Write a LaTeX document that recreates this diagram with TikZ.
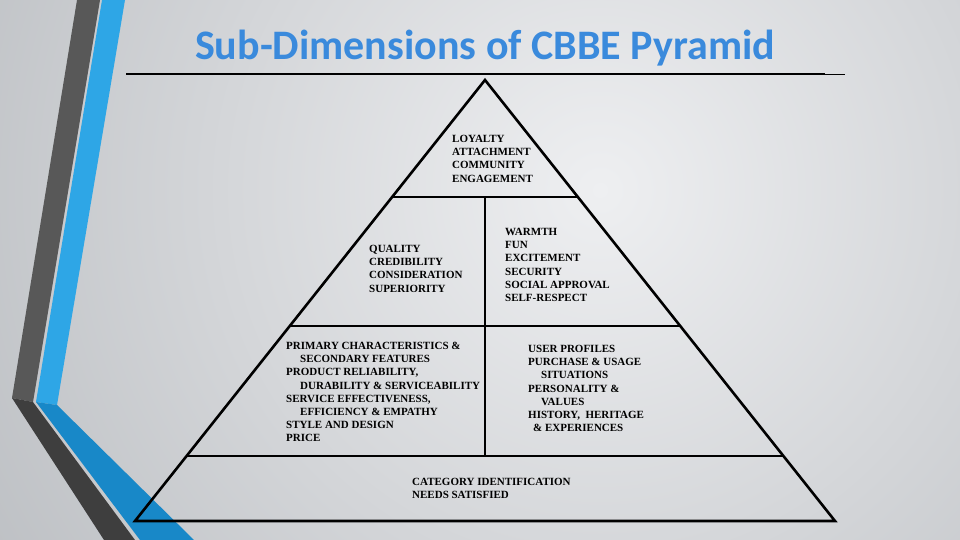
\documentclass[tikz,border=0pt]{standalone}
\usepackage{fontspec}
\setmainfont{Liberation Serif}
\newfontfamily\titlefont{Carlito}
\usepackage{tikz}
\usetikzlibrary{positioning, calc}

\definecolor{bandgray}{RGB}{88,88,88}
\definecolor{banddark}{RGB}{62,62,62}
\definecolor{bandblue}{RGB}{46,166,230}
\definecolor{banddeep}{RGB}{24,136,200}
\definecolor{titleblue}{RGB}{58,138,220}
\definecolor{bgcenter}{RGB}{238,239,241}
\definecolor{bgouter}{RGB}{186,189,193}

\begin{document}
\begin{tikzpicture}[x=1pt, y=-1pt,
  tiertext/.style={anchor=north west, inner sep=0pt, align=left,
    font=\fontsize{11}{13.2}\selectfont\bfseries},
  pyr/.style={line width=2.6pt}]
\useasboundingbox (0,0) rectangle (960,540);

% Background
\begin{scope}
\clip (0,0) rectangle (960,540);
\shade[inner color=bgcenter, outer color=bgouter] (600,190) circle (760);
\end{scope}

% Side bands
\fill[bandgray] (77,0) -- (100,0) -- (33,402) -- (12,398) -- cycle;
\fill[banddark] (12,398) -- (33,402) -- (135,540) -- (104,540) -- cycle;
\fill[bandblue] (102,0) -- (125,0) -- (57,405) -- (36,402) -- cycle;
\fill[banddeep] (36,402) -- (57,405) -- (194,540) -- (140,540) -- cycle;

% Title
\node[font=\titlefont\bfseries\fontsize{42}{48}\selectfont, text=titleblue] (title) at (485,48) {Sub-Dimensions of CBBE Pyramid};
\coordinate (ruleL) at (126,74);
\coordinate (ruleR) at (825,74);
\coordinate (ruleE) at (845,75);
\draw[line width=2.4pt] (ruleL) -- (ruleR);
\draw[line width=1pt] (ruleR |- ruleE) -- (ruleE);

% Pyramid corners
\coordinate (apex) at (485,80);
\coordinate (baseL) at (135,521);
\coordinate (baseR) at (835,521);
\coordinate (t1L) at (392,197);
\coordinate (t1R) at (578,197);
\coordinate (t2L) at (289,326);
\coordinate (t2R) at (681,326);
\coordinate (t3L) at (186,456);
\coordinate (t3R) at (784,456);
\coordinate (mid1) at (485,197);
\coordinate (mid3) at (485,456);

\draw[pyr, line join=miter] (apex) -- (baseL) -- (baseR) -- cycle;
\draw[pyr] (t1L) -- (t1R);
\draw[pyr] (t2L) -- (t2R);
\draw[pyr] (t3L) -- (t3R);
\draw[pyr] (mid1) -- (mid3);

% Tier texts
\node[tiertext] (resonance) at (452,135) {LOYALTY\\ATTACHMENT\\COMMUNITY\\ENGAGEMENT};
\node[tiertext] (judgments) at (369,245) {QUALITY\\CREDIBILITY\\CONSIDERATION\\SUPERIORITY};
\node[tiertext] (feelings) at (505,228) {WARMTH\\FUN\\EXCITEMENT\\SECURITY\\SOCIAL APPROVAL\\SELF-RESPECT};
\node[tiertext] (performance) at (286,342) {PRIMARY CHARACTERISTICS \&\\\hspace*{14pt}SECONDARY FEATURES\\PRODUCT RELIABILITY,\\\hspace*{14pt}DURABILITY \& SERVICEABILITY\\SERVICE EFFECTIVENESS,\\\hspace*{14pt}EFFICIENCY \& EMPATHY\\STYLE AND DESIGN\\PRICE};
\node[tiertext] (imagery) at (528,345) {USER PROFILES\\PURCHASE \& USAGE\\\hspace*{13pt}SITUATIONS\\PERSONALITY \&\\\hspace*{13pt}VALUES\\HISTORY,~ HERITAGE\\\hspace*{5pt}\& EXPERIENCES};
\node[tiertext] (salience) at (412,478) {CATEGORY IDENTIFICATION\\NEEDS SATISFIED};
\end{tikzpicture}
\end{document}
